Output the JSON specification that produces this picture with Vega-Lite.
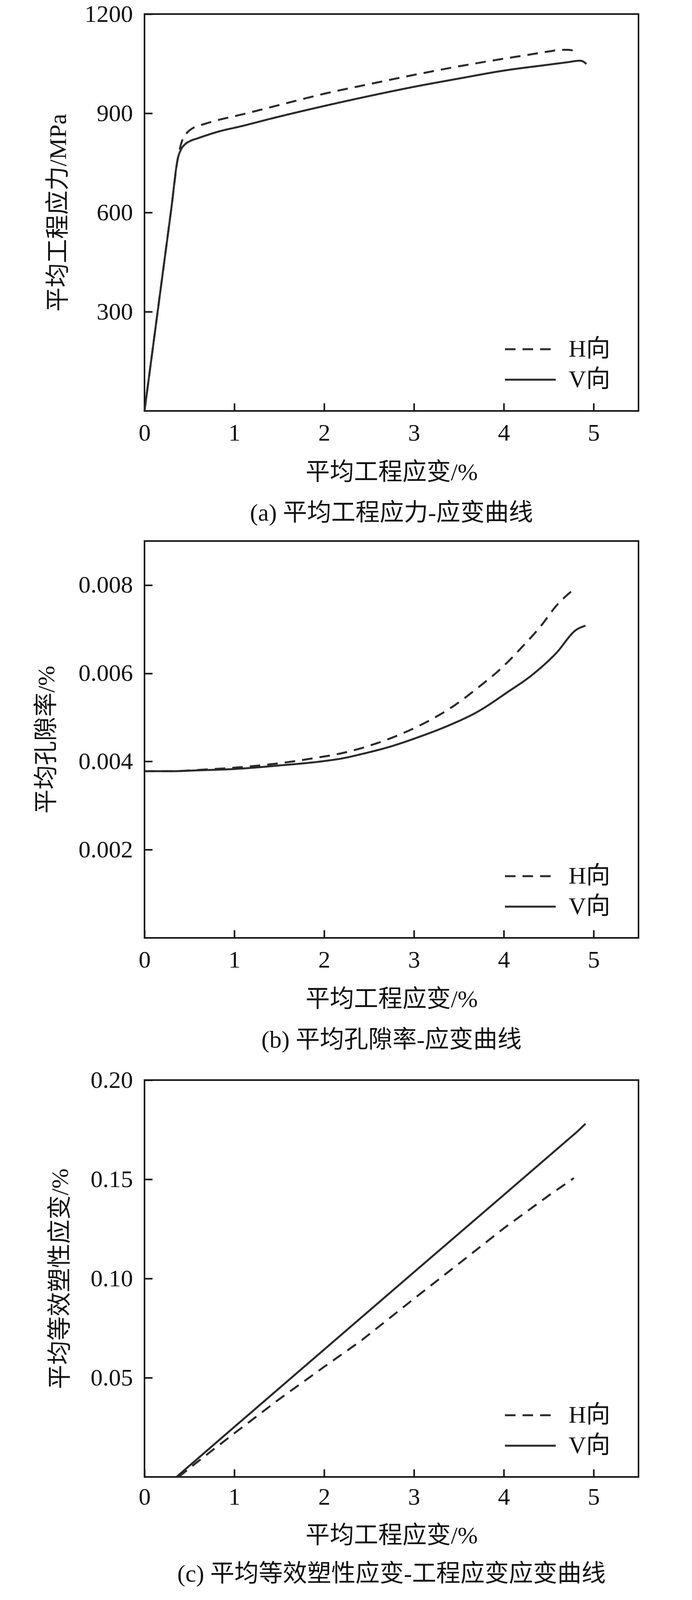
{
  "$schema": "https://vega.github.io/schema/vega-lite/v6.json",
  "background": "white",
  "padding": {"left": 86, "top": 3, "right": 40, "bottom": 0},
  "datasets": {
    "stress": [
      {"dir": "V向", "strain": 0, "v": 0},
      {"dir": "V向", "strain": 0.1, "v": 205},
      {"dir": "V向", "strain": 0.2, "v": 410},
      {"dir": "V向", "strain": 0.3, "v": 615},
      {"dir": "V向", "strain": 0.37, "v": 762},
      {"dir": "V向", "strain": 0.41, "v": 792},
      {"dir": "V向", "strain": 0.45, "v": 806},
      {"dir": "V向", "strain": 0.5, "v": 815},
      {"dir": "V向", "strain": 0.6, "v": 825},
      {"dir": "V向", "strain": 0.9, "v": 850},
      {"dir": "V向", "strain": 1.0, "v": 856},
      {"dir": "V向", "strain": 1.5, "v": 890},
      {"dir": "V向", "strain": 2.0, "v": 922},
      {"dir": "V向", "strain": 2.5, "v": 952},
      {"dir": "V向", "strain": 3.0, "v": 980},
      {"dir": "V向", "strain": 3.5, "v": 1005},
      {"dir": "V向", "strain": 4.0, "v": 1029},
      {"dir": "V向", "strain": 4.5, "v": 1047},
      {"dir": "V向", "strain": 4.7, "v": 1054},
      {"dir": "V向", "strain": 4.85, "v": 1059},
      {"dir": "V向", "strain": 4.88, "v": 1057},
      {"dir": "V向", "strain": 4.92, "v": 1049},
      {"dir": "H向", "strain": 0, "v": 0},
      {"dir": "H向", "strain": 0.1, "v": 205},
      {"dir": "H向", "strain": 0.2, "v": 410},
      {"dir": "H向", "strain": 0.3, "v": 615},
      {"dir": "H向", "strain": 0.37, "v": 762},
      {"dir": "H向", "strain": 0.4, "v": 800},
      {"dir": "H向", "strain": 0.43, "v": 825},
      {"dir": "H向", "strain": 0.48, "v": 843},
      {"dir": "H向", "strain": 0.55, "v": 857},
      {"dir": "H向", "strain": 0.66, "v": 867},
      {"dir": "H向", "strain": 0.87, "v": 883},
      {"dir": "H向", "strain": 1.0, "v": 891},
      {"dir": "H向", "strain": 1.5, "v": 925},
      {"dir": "H向", "strain": 2.0, "v": 959},
      {"dir": "H向", "strain": 2.5, "v": 988},
      {"dir": "H向", "strain": 3.0, "v": 1016},
      {"dir": "H向", "strain": 3.5, "v": 1042},
      {"dir": "H向", "strain": 4.0, "v": 1065},
      {"dir": "H向", "strain": 4.3, "v": 1078},
      {"dir": "H向", "strain": 4.5, "v": 1087},
      {"dir": "H向", "strain": 4.65, "v": 1092},
      {"dir": "H向", "strain": 4.72, "v": 1092},
      {"dir": "H向", "strain": 4.78, "v": 1089}
    ],
    "porosity": [
      {"dir": "V向", "strain": 0, "v": 0.00378},
      {"dir": "V向", "strain": 0.3, "v": 0.00378},
      {"dir": "V向", "strain": 0.6, "v": 0.0038},
      {"dir": "V向", "strain": 1.0, "v": 0.00383},
      {"dir": "V向", "strain": 1.5, "v": 0.00391},
      {"dir": "V向", "strain": 2.0, "v": 0.00401},
      {"dir": "V向", "strain": 2.2, "v": 0.00407},
      {"dir": "V向", "strain": 2.42, "v": 0.00417},
      {"dir": "V向", "strain": 2.74, "v": 0.00434},
      {"dir": "V向", "strain": 3.06, "v": 0.00456},
      {"dir": "V向", "strain": 3.39, "v": 0.00482},
      {"dir": "V向", "strain": 3.71, "v": 0.00513},
      {"dir": "V向", "strain": 4.04, "v": 0.00557},
      {"dir": "V向", "strain": 4.32, "v": 0.00597},
      {"dir": "V向", "strain": 4.58, "v": 0.00645},
      {"dir": "V向", "strain": 4.81, "v": 0.00699},
      {"dir": "V向", "strain": 4.91, "v": 0.00708},
      {"dir": "H向", "strain": 0, "v": 0.00378},
      {"dir": "H向", "strain": 0.3, "v": 0.00378},
      {"dir": "H向", "strain": 0.6, "v": 0.00381},
      {"dir": "H向", "strain": 1.0, "v": 0.00386},
      {"dir": "H向", "strain": 1.5, "v": 0.00396},
      {"dir": "H向", "strain": 1.9, "v": 0.00408},
      {"dir": "H向", "strain": 2.2, "v": 0.00419},
      {"dir": "H向", "strain": 2.61, "v": 0.00443},
      {"dir": "H向", "strain": 2.91, "v": 0.00467},
      {"dir": "H向", "strain": 3.19, "v": 0.00495},
      {"dir": "H向", "strain": 3.45, "v": 0.00527},
      {"dir": "H向", "strain": 3.71, "v": 0.00567},
      {"dir": "H向", "strain": 3.97, "v": 0.00611},
      {"dir": "H向", "strain": 4.21, "v": 0.00661},
      {"dir": "H向", "strain": 4.42, "v": 0.00709},
      {"dir": "H向", "strain": 4.58, "v": 0.00752},
      {"dir": "H向", "strain": 4.77, "v": 0.00789}
    ],
    "plastic": [
      {"dir": "V向", "strain": 0.356, "v": 0},
      {"dir": "V向", "strain": 1.0, "v": 0.0252},
      {"dir": "V向", "strain": 2.0, "v": 0.0642},
      {"dir": "V向", "strain": 3.0, "v": 0.1032},
      {"dir": "V向", "strain": 4.0, "v": 0.1421},
      {"dir": "V向", "strain": 4.82, "v": 0.1741},
      {"dir": "V向", "strain": 4.91, "v": 0.178},
      {"dir": "H向", "strain": 0.38, "v": 0},
      {"dir": "H向", "strain": 0.55, "v": 0.0062},
      {"dir": "H向", "strain": 1.0, "v": 0.022},
      {"dir": "H向", "strain": 1.5, "v": 0.0392},
      {"dir": "H向", "strain": 2.0, "v": 0.0555},
      {"dir": "H向", "strain": 2.41, "v": 0.0686},
      {"dir": "H向", "strain": 3.0, "v": 0.0898},
      {"dir": "H向", "strain": 3.5, "v": 0.1075},
      {"dir": "H向", "strain": 4.0, "v": 0.1253},
      {"dir": "H向", "strain": 4.5, "v": 0.1418},
      {"dir": "H向", "strain": 4.78, "v": 0.1506}
    ]
  },
  "spacing": 36,
  "resolve": {
    "scale": {"strokeDash": "independent", "x": "independent", "y": "independent"},
    "legend": {"strokeDash": "independent"}
  },
  "vconcat": [
    {
      "width": 1265,
      "height": 1016,
      "data": {"name": "stress"},
      "title": "(a) 平均工程应力-应变曲线",
      "mark": {"type": "line", "color": "#2a2a2a", "strokeWidth": 5, "interpolate": "monotone"},
      "encoding": {
        "x": {
          "field": "strain", "type": "quantitative",
          "scale": {"domain": [0, 5.5], "nice": false, "zero": false},
          "axis": {"values": [0, 1, 2, 3, 4, 5], "format": "d", "title": "平均工程应变/%"}
        },
        "y": {
          "field": "v", "type": "quantitative",
          "scale": {"domain": [0, 1200], "nice": false},
          "axis": {"values": [300, 600, 900, 1200], "format": "d", "title": "平均工程应力/MPa", "titlePadding": 35}
        },
        "strokeDash": {
          "field": "dir", "type": "nominal",
          "scale": {"domain": ["H向", "V向"], "range": [[27, 18], [1, 0]]},
          "legend": {"orient": "none", "legendX": 953, "legendY": 823}
        }
      }
    },
    {
      "width": 1265,
      "height": 1016,
      "data": {"name": "porosity"},
      "title": "(b) 平均孔隙率-应变曲线",
      "mark": {"type": "line", "color": "#2a2a2a", "strokeWidth": 5, "interpolate": "monotone"},
      "encoding": {
        "x": {
          "field": "strain", "type": "quantitative",
          "scale": {"domain": [0, 5.5], "nice": false, "zero": false},
          "axis": {"values": [0, 1, 2, 3, 4, 5], "format": "d", "title": "平均工程应变/%"}
        },
        "y": {
          "field": "v", "type": "quantitative",
          "scale": {"domain": [0, 0.009], "nice": false},
          "axis": {"values": [0.002, 0.004, 0.006, 0.008], "format": ".3f", "title": "平均孔隙率/%", "titlePadding": 49}
        },
        "strokeDash": {
          "field": "dir", "type": "nominal",
          "scale": {"domain": ["H向", "V向"], "range": [[27, 18], [1, 0]]},
          "legend": {"orient": "none", "legendX": 953, "legendY": 823}
        }
      }
    },
    {
      "width": 1265,
      "height": 1016,
      "data": {"name": "plastic"},
      "title": {"text": "(c) 平均等效塑性应变-工程应变应变曲线", "offset": 38},
      "mark": {"type": "line", "color": "#2a2a2a", "strokeWidth": 5},
      "encoding": {
        "x": {
          "field": "strain", "type": "quantitative",
          "scale": {"domain": [0, 5.5], "nice": false, "zero": false},
          "axis": {"values": [0, 1, 2, 3, 4, 5], "format": "d", "title": "平均工程应变/%", "labelPadding": 41, "titlePadding": 38}
        },
        "y": {
          "field": "v", "type": "quantitative",
          "scale": {"domain": [0, 0.2], "nice": false},
          "axis": {"values": [0.05, 0.1, 0.15, 0.2], "format": ".2f", "title": "平均等效塑性应变/%", "titlePadding": 45}
        },
        "strokeDash": {
          "field": "dir", "type": "nominal",
          "scale": {"domain": ["H向", "V向"], "range": [[27, 18], [1, 0]]},
          "legend": {"orient": "none", "legendX": 953, "legendY": 823}
        }
      }
    }
  ],
  "config": {
    "font": "Liberation Serif, Noto Sans CJK SC",
    "view": {"stroke": "#111111", "strokeWidth": 4},
    "axis": {
      "grid": false,
      "domain": false,
      "ticks": true,
      "tickSize": -20,
      "tickWidth": 4,
      "tickColor": "#111111",
      "labelFont": "Liberation Serif, Noto Sans CJK SC",
      "labelFontSize": 62,
      "labelColor": "#111111",
      "titleFont": "Liberation Serif, Noto Sans CJK SC",
      "titleFontSize": 62,
      "titleFontWeight": "normal",
      "titleColor": "#111111"
    },
    "axisX": {"labelPadding": 46, "titlePadding": 40, "labelFlush": false},
    "axisY": {"labelPadding": 50, "labelFlush": false},
    "legend": {
      "title": null,
      "symbolType": "M-2,0H2",
      "symbolSize": 4225,
      "symbolStrokeWidth": 5,
      "symbolStrokeColor": "#2a2a2a",
      "symbolFillColor": "transparent",
      "labelFont": "Liberation Serif, Noto Sans CJK SC",
      "labelFontSize": 62,
      "labelColor": "#111111",
      "labelOffset": 63,
      "rowPadding": 12,
      "padding": 0
    },
    "title": {
      "orient": "bottom",
      "frame": "group",
      "anchor": "middle",
      "font": "Liberation Serif, Noto Sans CJK SC",
      "fontSize": 62,
      "fontWeight": "normal",
      "color": "#111111",
      "offset": 44
    }
  }
}
